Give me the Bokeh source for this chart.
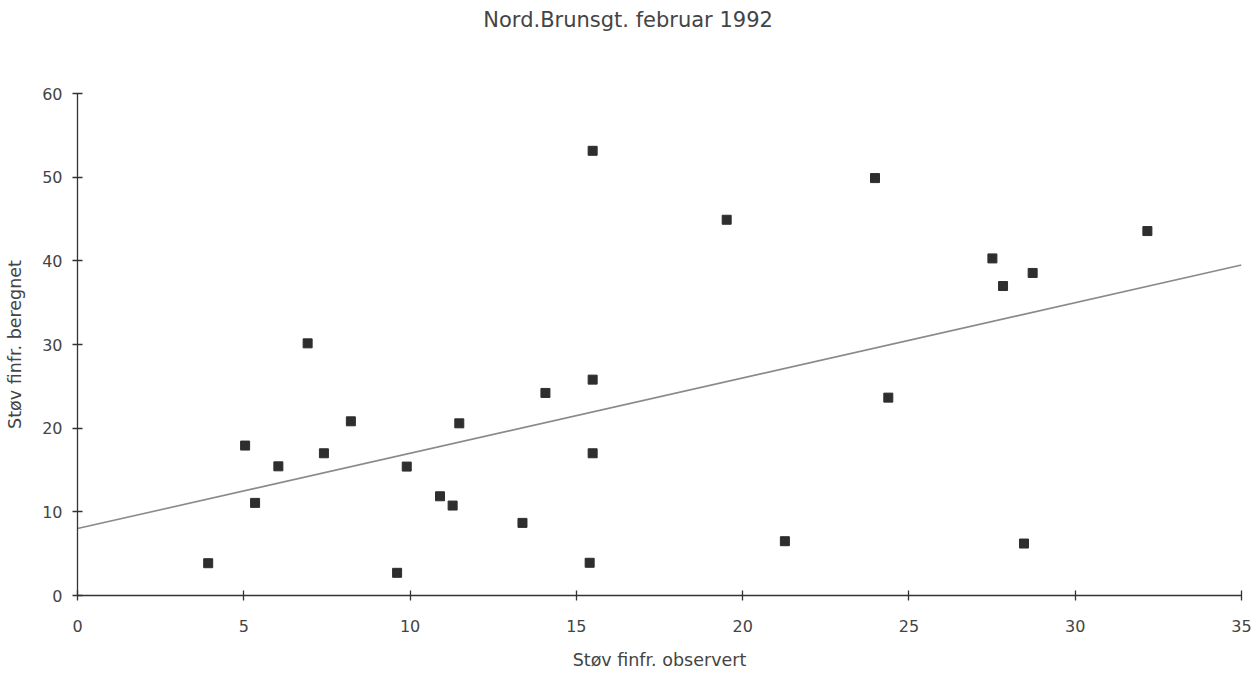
from bokeh.plotting import figure
from bokeh.layouts import column
from bokeh.models import Range1d, FixedTicker, Label
from bokeh.embed import file_html
from bokeh.resources import INLINE

# Data
observed = [3.93, 5.04, 5.34, 6.04, 6.92, 7.41, 8.22, 9.61, 9.90, 10.90, 11.28, 11.48,
            13.38, 14.07, 15.40, 15.49, 15.49, 15.49, 19.52, 21.27, 23.98, 24.38,
            27.51, 27.83, 28.46, 28.72, 32.17]
computed = [3.86, 17.92, 11.07, 15.44, 30.14, 17.0, 20.82, 2.71, 15.41, 11.86, 10.75, 20.58,
            8.68, 24.21, 3.91, 53.15, 25.80, 17.0, 44.91, 6.49, 49.89, 23.65,
            40.29, 36.99, 6.21, 38.55, 43.56]
fit_intercept = 8.0
fit_slope = 0.9
fit_x = [0, 35]
fit_y = [fit_intercept + fit_slope * v for v in fit_x]

x_ticks = [0, 5, 10, 15, 20, 25, 30, 35]
y_ticks = [0, 10, 20, 30, 40, 50, 60]

title_text = "Nord.Brunsgt. februar 1992"
x_label = "Støv finfr. observert"
y_label = "Støv finfr. beregnet"

FONT = "DejaVu Sans"
TXT = "#444444"
AX = "#333333"

# --- title strip (page-centred title, as in the reference) ---
t = figure(width=1260, height=83, output_backend="svg", toolbar_location=None,
           x_range=Range1d(0, 1260), y_range=Range1d(0, 83),
           x_axis_location=None, y_axis_location=None, min_border=0)
t.min_border_left = 0
t.min_border_right = 0
t.min_border_top = 0
t.min_border_bottom = 0
t.outline_line_color = None
t.xgrid.visible = False
t.ygrid.visible = False
t.add_layout(Label(x=596, y=64, text=title_text, text_align="center",
                   text_baseline="middle", text_font=FONT, text_font_size="21px",
                   text_color=TXT))

# --- main scatter chart ---
p = figure(width=1260, height=590, output_backend="svg", toolbar_location=None,
           x_range=Range1d(0, 35), y_range=Range1d(0, 60))
p.min_border_left = 77
p.min_border_right = 19
p.min_border_top = 10
p.min_border_bottom = 78
p.outline_line_color = None
p.background_fill_color = "white"
p.border_fill_color = "white"
p.xgrid.visible = False
p.ygrid.visible = False

p.line(fit_x, fit_y, line_color="#8a8a8a", line_width=1.6)
p.scatter(observed, computed, marker="square", size=9, fill_color="#2e2e2e",
          line_color="#2e2e2e")

for ax, ticks in ((p.xaxis[0], x_ticks), (p.yaxis[0], y_ticks)):
    ax.ticker = FixedTicker(ticks=ticks)
    ax.minor_tick_line_color = None
    ax.major_tick_in = 5
    ax.major_tick_out = 5
    ax.axis_line_color = AX
    ax.axis_line_width = 1.3
    ax.major_tick_line_color = AX
    ax.major_tick_line_width = 1.3
    ax.major_label_text_font = FONT
    ax.major_label_text_font_size = "16px"
    ax.major_label_text_color = TXT
    ax.axis_label_text_font = FONT
    ax.axis_label_text_font_size = "17.5px"
    ax.axis_label_text_font_style = "normal"
    ax.axis_label_text_color = TXT

p.xaxis[0].axis_label = x_label
p.yaxis[0].axis_label = y_label
p.xaxis[0].major_label_standoff = 19
p.xaxis[0].axis_label_standoff = 15
p.yaxis[0].major_label_standoff = 10
p.yaxis[0].axis_label_standoff = 14

layout = column(t, p, spacing=0)
open("out.html", "w").write(file_html(layout, INLINE))
